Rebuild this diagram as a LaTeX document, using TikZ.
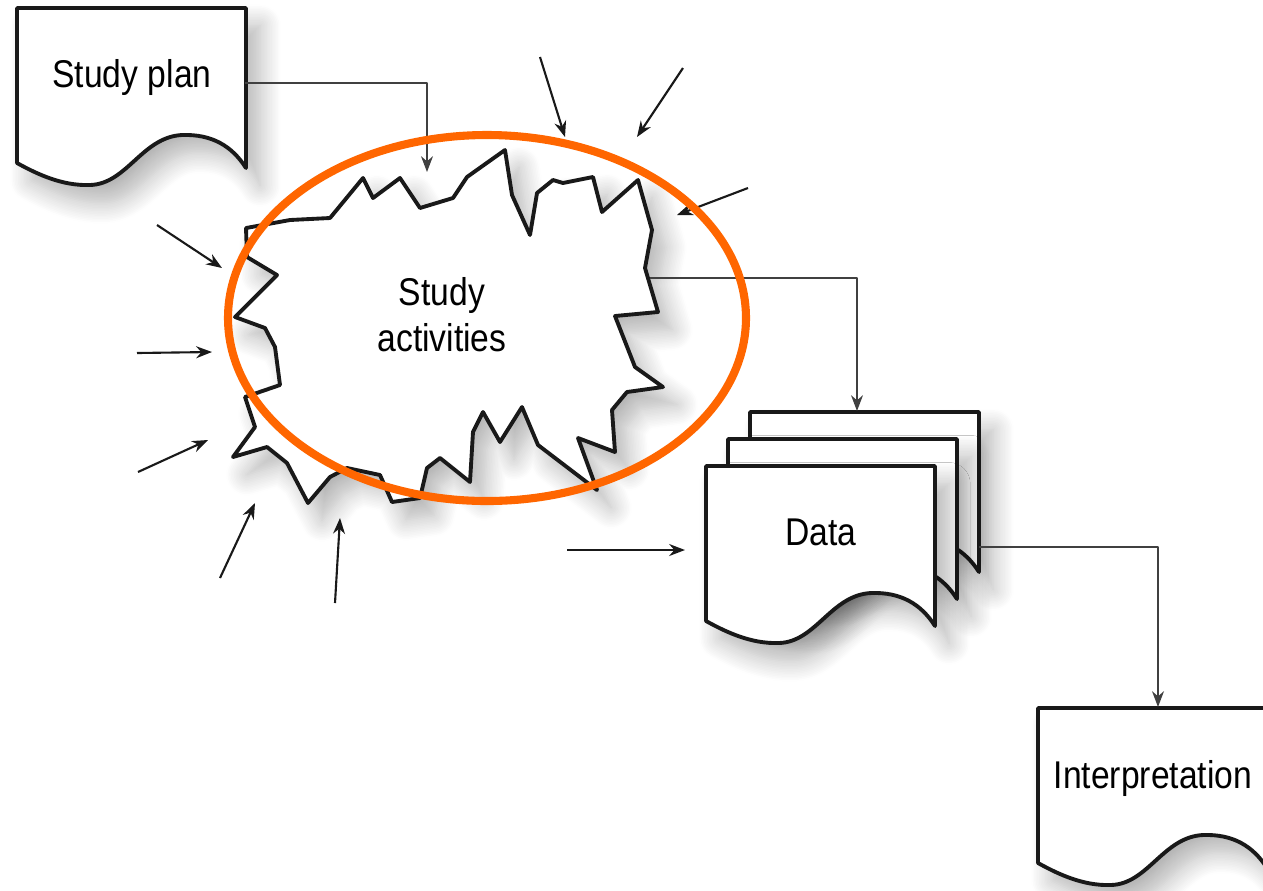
\documentclass[tikz,border=0pt]{standalone}
\usepackage{xcolor}
\usepackage{fontspec}
\setmainfont{Liberation Sans}[FakeStretch=0.87]
\usetikzlibrary{arrows.meta,shadows.blur}

\definecolor{ringorange}{RGB}{255,102,0}

\begin{document}
\begin{tikzpicture}[x=0.01cm, y=-0.01cm, line join=round,
    docline/.style={draw=black!90, line width=1.1pt, fill=white},
    softshadow/.style={blur shadow={shadow xshift=4pt, shadow yshift=-5pt,
        shadow blur radius=6pt, shadow blur steps=14, shadow opacity=30}},
    link/.style={draw=black!75, line width=0.5pt, -{Stealth[length=4.5pt, width=3.4pt]}},
    cause/.style={draw=black!90, line width=0.6pt, -{Stealth[length=4.5pt, width=3.4pt]}},
    txt/.style={font=\fontsize{11}{13}\selectfont, anchor=base, align=center},
    page/.pic={\path[docline, softshadow] (0,0) -- (229,0) -- (229,160)
        .. controls (215,138) and (195,126) .. (165,127)
        .. controls (125,129) and (110,176) .. (73,177)
        .. controls (45,178) and (20,166) .. (0,155) -- cycle;}]
        \useasboundingbox (0,0) rectangle (1263,890);
        \clip (0,0) rectangle (1263,890);

        % documents
        \pic at (17,8) {page};
        \node[txt] (plan) at (132,87) {Study plan};

        \pic at (750,412) {page};
        \pic at (728,439) {page};
        \pic at (706,466) {page};
        \node[txt] (data) at (821,545) {Data};

        \pic at (1038,708) {page};
        \node[txt] (interp) at (1153,788) {Interpretation};

        % study activities
        \path[docline, softshadow] (246,228) -- (290,220) -- (330,218) -- (363,178)
            -- (373,198) -- (400,178) -- (420,208) -- (453,198) -- (467,177)
            -- (505,150) -- (512,195) -- (530,235) -- (537,193) -- (553,180)
            -- (563,183) -- (593,177) -- (602,212) -- (638,180) -- (652,230)
            -- (645,268) -- (658,312) -- (615,316) -- (635,367) -- (663,387)
            -- (627,392) -- (612,410) -- (615,452) -- (578,438) -- (597,490)
            -- (538,445) -- (522,407) -- (500,442) -- (483,412) -- (473,432)
            -- (470,482) -- (440,458) -- (427,468) -- (420,498) -- (392,502)
            -- (380,475) -- (347,468) -- (330,477) -- (308,503) -- (287,463)
            -- (267,447) -- (233,457) -- (255,427) -- (245,397) -- (280,385)
            -- (275,347) -- (265,328) -- (235,317) -- (277,275) -- (247,257) -- cycle;
        \node[txt, anchor=center] (act) at (442,315) {Study\\activities};

        % flow
        \coordinate (plan-out) at (245,83);
        \coordinate (act-in) at (427,172);
        \coordinate (act-out) at (650,278);
        \coordinate (data-in) at (857,411);
        \coordinate (data-out) at (979,547);
        \coordinate (interp-in) at (1158,707);
        \draw[link] (plan-out) -| (act-in);
        \draw[link] (act-out) -| (data-in);
        \draw[link] (data-out) -| (interp-in);

        % influences
        \foreach \i/\ax/\ay/\bx/\by in {1/540/57/565/137, 2/683/68/637/137,
            3/748/188/677/215, 4/157/225/222/268, 5/137/353/212/352,
            6/138/472/208/440, 7/220/578/255/503, 8/335/603/340/518,
            9/567/550/685/550} {
            \coordinate (src\i) at (\ax,\ay);
            \coordinate (hit\i) at (\bx,\by);
            \draw[cause] (src\i) -- (hit\i);
        }

        \draw[ringorange, line width=2.3pt] (487,318) ellipse [x radius=259, y radius=183];
    \end{tikzpicture}
\end{document}
